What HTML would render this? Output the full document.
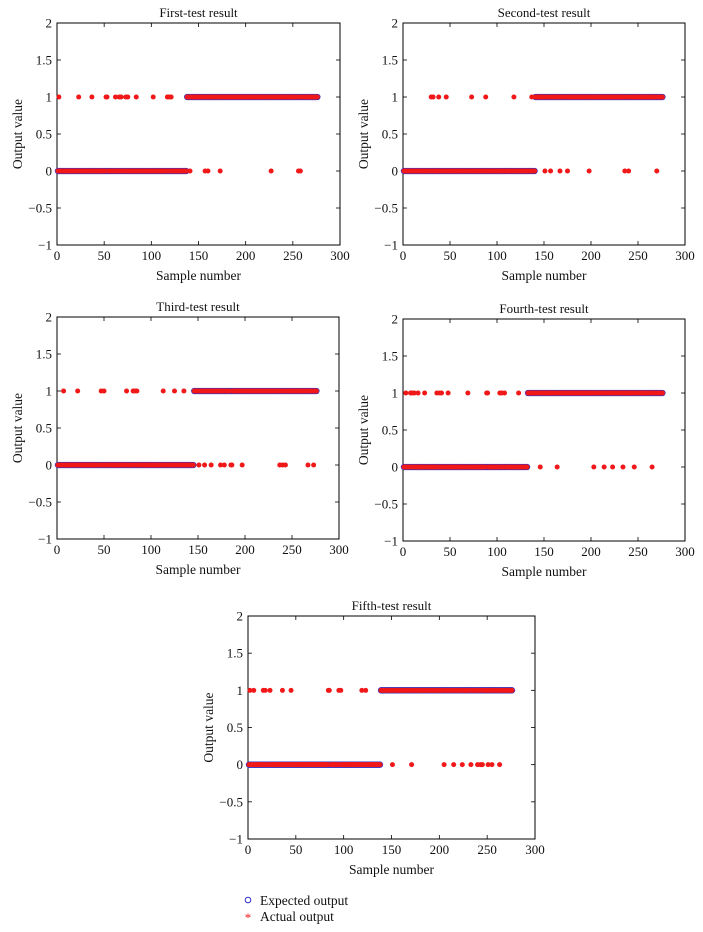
<!DOCTYPE html>
<html><head><meta charset="utf-8"><style>
html,body{margin:0;padding:0;background:#fff;}
svg{display:block;font-family:"Liberation Serif",serif;}
</style></head><body>
<svg id="fig" width="703" height="932" viewBox="0 0 703 932"></svg>
<script>
const titles = ["First-test result","Second-test result","Third-test result","Fourth-test result","Fifth-test result"];
const nSamples = 276;
const boundaries = [137, 140, 145, 132, 138];
const falseOnes1 = [2,23,37,52,53,62,66,68,73,75,84,102,117,119,121];
const falseZeros1 = [141,157,160,173,227,256,258];
const falseOnes2 = [30,32,38,46,73,88,118,137];
const falseZeros2 = [151,157,167,175,198,236,240,270];
const falseOnes3 = [7,22,47,50,74,81,83,85,113,125,135];
const falseZeros3 = [151,157,164,174,178,185,186,197,237,240,243,267,273];
const falseOnes4 = [3,8,10,12,16,23,36,39,41,48,69,89,90,103,105,108,123];
const falseZeros4 = [146,164,203,214,223,234,246,265];
const falseOnes5 = [2,6,16,18,23,36,45,84,85,95,97,119,123];
const falseZeros5 = [151,171,205,215,224,233,240,243,245,251,255,263];
const xTicks = [0,50,100,150,200,250,300];
const yTicks = [-1,-0.5,0,0.5,1,1.5,2];
const yTickLabels = ["\u22121","\u22120.5","0","0.5","1","1.5","2"];

const NS="http://www.w3.org/2000/svg";
const svg=document.getElementById('fig');
function mk(tag,attrs,parent){const e=document.createElementNS(NS,tag);for(const k in attrs)e.setAttribute(k,attrs[k]);(parent||svg).appendChild(e);return e;}

const boxes=[
 {l:57,r:340,t:23,b:245},
 {l:403,r:685,t:23,b:245},
 {l:57,r:339,t:317,b:539},
 {l:403,r:685,t:319,b:541},
 {l:248,r:535,t:616,b:839}
];
const allOnes=[falseOnes1,falseOnes2,falseOnes3,falseOnes4,falseOnes5];
const allZeros=[falseZeros1,falseZeros2,falseZeros3,falseZeros4,falseZeros5];

boxes.forEach((bx,i)=>{
  const g=mk('g',{});
  
  
  const xs=v=>bx.l+(v-0)/300*(bx.r-bx.l);
  const ys=v=>bx.b-(v+1)/3*(bx.b-bx.t);
  xTicks.forEach(v=>{
    const x=xs(v);
    const t1=mk('line',{x1:x,x2:x,y1:bx.b,y2:bx.b-4,stroke:'#000','stroke-width':0.8},g);
    
    
    mk('line',{x1:x,x2:x,y1:bx.t,y2:bx.t+4,stroke:'#000','stroke-width':0.8},g);
    const tl=mk('text',{x:x,y:bx.b+15,'font-size':13,'text-anchor':'middle',fill:'#111'},g);
    tl.textContent=v;
    
    
  });
  yTicks.forEach((v,j)=>{
    const y=ys(v);
    const t1=mk('line',{x1:bx.l,x2:bx.l+4,y1:y,y2:y,stroke:'#000','stroke-width':0.8},g);
    
    
    mk('line',{x1:bx.r,x2:bx.r-4,y1:y,y2:y,stroke:'#000','stroke-width':0.8},g);
    const tl=mk('text',{x:bx.l-5,y:y+4.5,'font-size':13,'text-anchor':'end',fill:'#111'},g);
    tl.textContent=yTickLabels[j];
    
    
  });
  const frame=mk('rect',{x:bx.l,y:bx.t,width:bx.r-bx.l,height:bx.b-bx.t,fill:'none',stroke:'#000','stroke-width':1},g);
  
  
  const tt=mk('text',{x:(bx.l+bx.r)/2,y:bx.t-6,'font-size':13,'text-anchor':'middle',fill:'#111'},g);
  tt.textContent=titles[i];
  
  
  const xl=mk('text',{x:(bx.l+bx.r)/2,y:bx.b+35,'font-size':13.5,'text-anchor':'middle',fill:'#111'},g);
  xl.textContent='Sample number';
  
  
  const cy=(bx.t+bx.b)/2;
  const yl=mk('text',{x:bx.l-35,y:cy,'font-size':13.5,'text-anchor':'middle',fill:'#111',transform:`rotate(-90 ${bx.l-35} ${cy})`},g);
  yl.textContent='Output value';
  
  
  const ones=new Set(allOnes[i]), zeros=new Set(allZeros[i]);
  const expG=mk('g',{},g);
  
  
  const actG=mk('g',{},g);
  
  
  for(let s=1;s<=nSamples;s++){
    const exp=s<=boundaries[i]?0:1;
    let act=exp;
    if(ones.has(s))act=1;
    if(zeros.has(s))act=0;
    const c=mk('circle',{cx:xs(s),cy:ys(exp),r:2.7,fill:'none',stroke:'#3030c8','stroke-width':0.9},expG);
    
    
    const a=mk('circle',{cx:xs(s),cy:ys(act),r:2.5,fill:'#f01818'},actG);
    
    
  }
});
const lg=mk('g',{});


const le1=mk('circle',{cx:248,cy:900,r:2.8,fill:'none',stroke:'#3030c8','stroke-width':1},lg);


const lt1=mk('text',{x:260,y:905,'font-size':13.5,fill:'#111'},lg);
lt1.textContent='Expected output';


const le2=mk('text',{x:248,y:922,'font-size':13,fill:'#f01818','text-anchor':'middle'},lg);
le2.textContent='*';


const lt2=mk('text',{x:260,y:921,'font-size':13.5,fill:'#111'},lg);
lt2.textContent='Actual output';


</script>
</body></html>
